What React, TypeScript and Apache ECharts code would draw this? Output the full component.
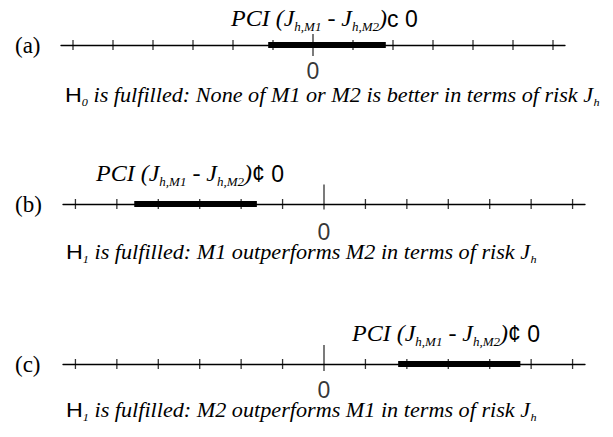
import React, { useEffect, useRef } from "react";
import * as echarts from "echarts";

// ---- data ----
const panelLabels = ["(a)", "(b)", "(c)"];
const tickValues = [-6, -5, -4, -3, -2, -1, 1, 2, 3, 4, 5, 6];
const pciLow = [-1.12, -4.58, 1.79];
const pciHigh = [1.82, -1.62, 4.74];
const relationSymbols = ["c", "¢", "¢"];
const hypotheses = ["0", "1", "1"];
const conclusions = [
  " is fulfilled: None of M1 or M2 is better in terms of risk J",
  " is fulfilled: M1 outperforms M2 in terms of risk J",
  " is fulfilled: M2 outperforms M1 in terms of risk J",
];
const axisMin = -6.3;
const axisMax = 6.3;

// ---- layout (pixels) ----
const grids = [
  { left: 61, width: 504, axisY: 45 },
  { left: 63, width: 522, axisY: 204 },
  { left: 63, width: 522, axisY: 364 },
];
const titlePos = [
  { x: 231, y: 19 },
  { x: 96, y: 174 },
  { x: 352, y: 334 },
];
const captionPos = [
  { x: 65, y: 97 },
  { x: 66, y: 254 },
  { x: 66, y: 412 },
];
const zeroTick = [
  { h: 22, off: 0, dist: 6 },
  { h: 25, off: -7, dist: 13 },
  { h: 26, off: -6, dist: 10 },
];

const serif = "'Liberation Serif', 'Times New Roman', serif";
const sans = "'Liberation Sans', Arial, sans-serif";

const titleRich = {
  i: { fontFamily: serif, fontStyle: "italic", fontSize: 24, lineHeight: 30, verticalAlign: "bottom", padding: [0, 0, 4, 0], color: "#000" },
  s: { fontFamily: serif, fontStyle: "italic", fontSize: 13, lineHeight: 30, verticalAlign: "bottom", padding: [0, 0, 1, 0], color: "#000" },
  g: { fontFamily: sans, fontSize: 23, lineHeight: 30, verticalAlign: "bottom", padding: [0, 0, 4, 0], color: "#000" },
};
const captionRich = {
  i: { fontFamily: serif, fontStyle: "italic", fontSize: 20, lineHeight: 22, verticalAlign: "bottom", padding: [0, 0, 3, 0], color: "#000" },
  s: { fontFamily: serif, fontStyle: "italic", fontSize: 11, lineHeight: 22, verticalAlign: "bottom", padding: [0, 0, 0, 0], color: "#000" },
  H: { fontFamily: sans, fontSize: 21, lineHeight: 22, verticalAlign: "bottom", padding: [0, 0, 3, 0], color: "#000" },
};

export default function App() {
  const ref = useRef<HTMLDivElement>(null);
  useEffect(() => {
    if (!ref.current) return;
    const chart = echarts.init(ref.current, null, { renderer: "svg" });
    const gridOpts = grids.map((g) => ({
      left: g.left,
      width: g.width,
      top: g.axisY - 10,
      height: 20,
      containLabel: false,
    }));
    const xAxes = grids.map((_, i) => ({
      type: "value",
      gridIndex: i,
      min: axisMin,
      max: axisMax,
      axisLine: { show: true, onZero: true, lineStyle: { color: "#000", width: 1.3 } },
      axisTick: { show: false },
      axisLabel: { show: false },
      splitLine: { show: false },
    }));
    const yAxes = grids.map((_, i) => ({
      type: "value",
      gridIndex: i,
      min: -1,
      max: 1,
      show: false,
    }));
    const series: any[] = [];
    grids.forEach((_, i) => {
      series.push({
        type: "scatter",
        xAxisIndex: i,
        yAxisIndex: i,
        data: tickValues.map((v) => [v, 0]),
        symbol: "rect",
        symbolSize: [1.3, 10],
        itemStyle: { color: "#000" },
        silent: true,
        z: 3,
      });
      series.push({
        type: "scatter",
        xAxisIndex: i,
        yAxisIndex: i,
        data: [[0, 0]],
        symbol: "rect",
        symbolSize: [1.3, zeroTick[i].h],
        symbolOffset: [0, zeroTick[i].off],
        itemStyle: { color: "#000" },
        label: {
          show: true,
          position: "bottom",
          distance: zeroTick[i].dist,
          formatter: "0",
          fontFamily: sans,
          fontSize: 23,
          lineHeight: 18,
          color: "#000",
        },
        silent: true,
        z: 4,
      });
      series.push({
        type: "line",
        xAxisIndex: i,
        yAxisIndex: i,
        data: [
          [pciLow[i], 0],
          [pciHigh[i], 0],
        ],
        symbol: "none",
        lineStyle: { color: "#000", width: 6, cap: "butt" },
        silent: true,
        z: 5,
      });
    });

    const graphics: any[] = [];
    grids.forEach((g, i) => {
      graphics.push({
        type: "text",
        x: 15,
        y: g.axisY,
        style: {
          text: panelLabels[i],
          font: `23px ${serif}`,
          fill: "#000",
          verticalAlign: "middle",
          align: "left",
        },
      });
      graphics.push({
        type: "text",
        x: titlePos[i].x,
        y: titlePos[i].y,
        style: {
          text: `{i|PCI (J}{s|h,M1}{i| - J}{s|h,M2}{i|)}{g|${relationSymbols[i]} 0}`,
          rich: titleRich,
          verticalAlign: "middle",
          align: "left",
        },
      });
      graphics.push({
        type: "text",
        x: captionPos[i].x,
        y: captionPos[i].y,
        scaleX: 1.11,
        style: {
          text: `{H|H}{s|${hypotheses[i]}}{i|${conclusions[i]}}{s|h}`,
          rich: captionRich,
          verticalAlign: "middle",
          align: "left",
        },
      });
    });

    chart.setOption({
      animation: false,
      backgroundColor: "#fff",
      grid: gridOpts,
      xAxis: xAxes,
      yAxis: yAxes,
      series,
      graphic: graphics,
    });
    return () => chart.dispose();
  }, []);
  return (
    <div
      ref={ref}
      style={{ position: "absolute", left: 0, top: 0, width: 613, height: 437 }}
    />
  );
}
